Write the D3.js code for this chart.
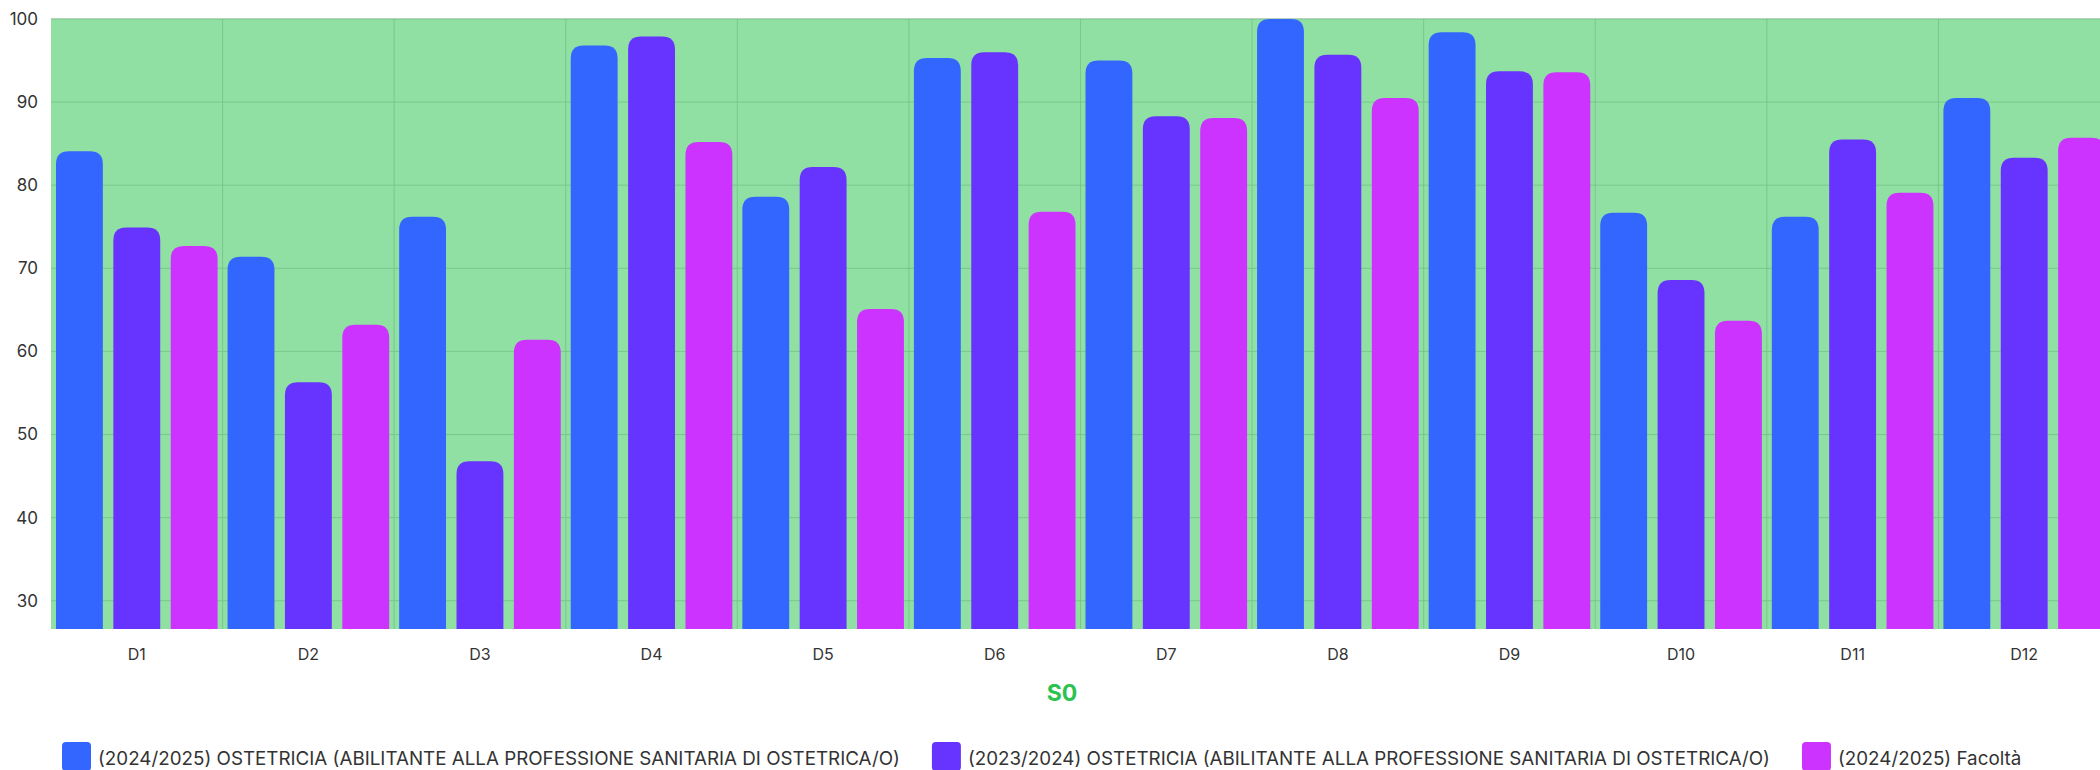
<!DOCTYPE html>
<html>
<head>
<meta charset="utf-8">
<script src="https://cdn.jsdelivr.net/npm/d3@7"></script>
<style>
  body { margin: 0; background: #fff; }
  text { font-family: Inter, "Noto Sans", sans-serif; }
</style>
</head>
<body>
<div id="chart"></div>
<script>
var categories = ["D1", "D2", "D3", "D4", "D5", "D6", "D7", "D8", "D9", "D10", "D11", "D12"];
var seriesNames = [
    "(2024/2025) OSTETRICIA (ABILITANTE ALLA PROFESSIONE SANITARIA DI OSTETRICA/O)",
    "(2023/2024) OSTETRICIA (ABILITANTE ALLA PROFESSIONE SANITARIA DI OSTETRICA/O)",
    "(2024/2025) Facoltà"
];
var ost2425 = [84.1, 71.4, 76.2, 96.8, 78.6, 95.3, 95.0, 100, 98.4, 76.7, 76.2, 90.5];
var ost2324 = [74.9, 56.3, 46.8, 97.9, 82.2, 96.0, 88.3, 95.7, 93.7, 68.6, 85.5, 83.3];
var facolta2425 = [72.7, 63.2, 61.4, 85.2, 65.1, 76.8, 88.1, 90.5, 93.6, 63.7, 79.1, 85.7];
var yTicks = [30, 40, 50, 60, 70, 80, 90, 100];
var xTitle = "S0";

var palette = ["#3366ff", "#6633ff", "#cc33ff"];
var series = [ost2425, ost2324, facolta2425];

var width = 2100, height = 770;
var plotLeft = 51, plotTop = 19, plotRight = 2110, plotBottom = 629;

var svg = d3.select("#chart")
    .append("svg")
    .attr("width", width)
    .attr("height", height);

var x = d3.scaleBand()
    .domain(categories)
    .range([plotLeft, plotRight])
    .padding(0);

var xSub = d3.scaleBand()
    .domain(d3.range(series.length))
    .range([0, x.bandwidth()])
    .paddingInner(0.183)
    .paddingOuter(0.087);

var y = d3.scaleLinear()
    .domain([26.6, 100])
    .range([plotBottom, plotTop]);

// plot background
svg.append("rect")
    .attr("x", plotLeft)
    .attr("y", plotTop)
    .attr("width", plotRight - plotLeft)
    .attr("height", plotBottom - plotTop)
    .style("fill", "#90dfa3");

svg.append("line")
    .attr("x1", plotLeft).attr("x2", plotRight)
    .attr("y1", plotTop - 0.5).attr("y2", plotTop - 0.5)
    .style("stroke", "#dddddd");

// grid
svg.append("g")
    .selectAll("line")
    .data(yTicks)
    .enter()
    .append("line")
    .attr("x1", plotLeft)
    .attr("x2", plotRight)
    .attr("y1", function(d){ return y(d); })
    .attr("y2", function(d){ return y(d); })
    .style("stroke", "#6fbf83")
    .style("stroke-opacity", 0.7);

svg.append("g")
    .selectAll("line")
    .data(categories.slice(1))
    .enter()
    .append("line")
    .attr("x1", function(d){ return x(d); })
    .attr("x2", function(d){ return x(d); })
    .attr("y1", plotTop)
    .attr("y2", plotBottom)
    .style("stroke", "#6fbf83")
    .style("stroke-opacity", 0.7);

// bars
function topRounded(x0, y0, w, h, r) {
    r = Math.min(r, w / 2, h);
    return "M" + x0 + "," + (y0 + h) +
        "V" + (y0 + r) +
        "Q" + x0 + "," + y0 + " " + (x0 + r) + "," + y0 +
        "H" + (x0 + w - r) +
        "Q" + (x0 + w) + "," + y0 + " " + (x0 + w) + "," + (y0 + r) +
        "V" + (y0 + h) + "Z";
}

var barData = [];
categories.forEach(function(c, i){
    series.forEach(function(s, k){
        barData.push({ cat: c, k: k, value: s[i] });
    });
});

svg.append("g")
    .selectAll("path")
    .data(barData)
    .enter()
    .append("path")
    .attr("d", function(d){
        var bx = x(d.cat) + xSub(d.k);
        var by = y(d.value);
        return topRounded(bx, by, xSub.bandwidth(), plotBottom - by, 13);
    })
    .style("fill", function(d){ return palette[d.k]; });

// y axis labels
var yAxis = d3.axisLeft(y)
    .tickValues(yTicks)
    .tickSize(0)
    .tickPadding(13);

svg.append("g")
    .attr("transform", "translate(" + plotLeft + ",0)")
    .call(yAxis)
    .call(function(g){ g.select(".domain").remove(); })
    .selectAll("text")
    .style("font-size", "17px")
    .style("fill", "#333333")
    .style("font-family", "Inter, sans-serif");

// x axis labels
var xAxis = d3.axisBottom(x).tickSize(0).tickPadding(20);

svg.append("g")
    .attr("transform", "translate(0," + plotBottom + ")")
    .call(xAxis)
    .call(function(g){ g.select(".domain").remove(); })
    .selectAll("text")
    .style("font-size", "16px")
    .style("fill", "#333333")
    .style("font-family", "Inter, sans-serif");

svg.append("text")
    .attr("x", 1062)
    .attr("y", 701)
    .attr("text-anchor", "middle")
    .style("font-size", "23px")
    .style("font-weight", "bold")
    .style("fill", "#2bc250")
    .text(xTitle);

// legend
var legend = svg.append("g");
var lx = 62;
seriesNames.forEach(function(name, k){
    legend.append("rect")
        .attr("x", lx)
        .attr("y", 742)
        .attr("width", 29)
        .attr("height", 29)
        .attr("rx", 4)
        .style("fill", palette[k]);
    var t = legend.append("text")
        .attr("x", lx + 36)
        .attr("y", 765)
        .style("font-size", "18.8px")
        .style("fill", "#333333")
        .text(name);
    lx = lx + 36 + t.node().getComputedTextLength() + 32;
});
</script>
</body>
</html>
